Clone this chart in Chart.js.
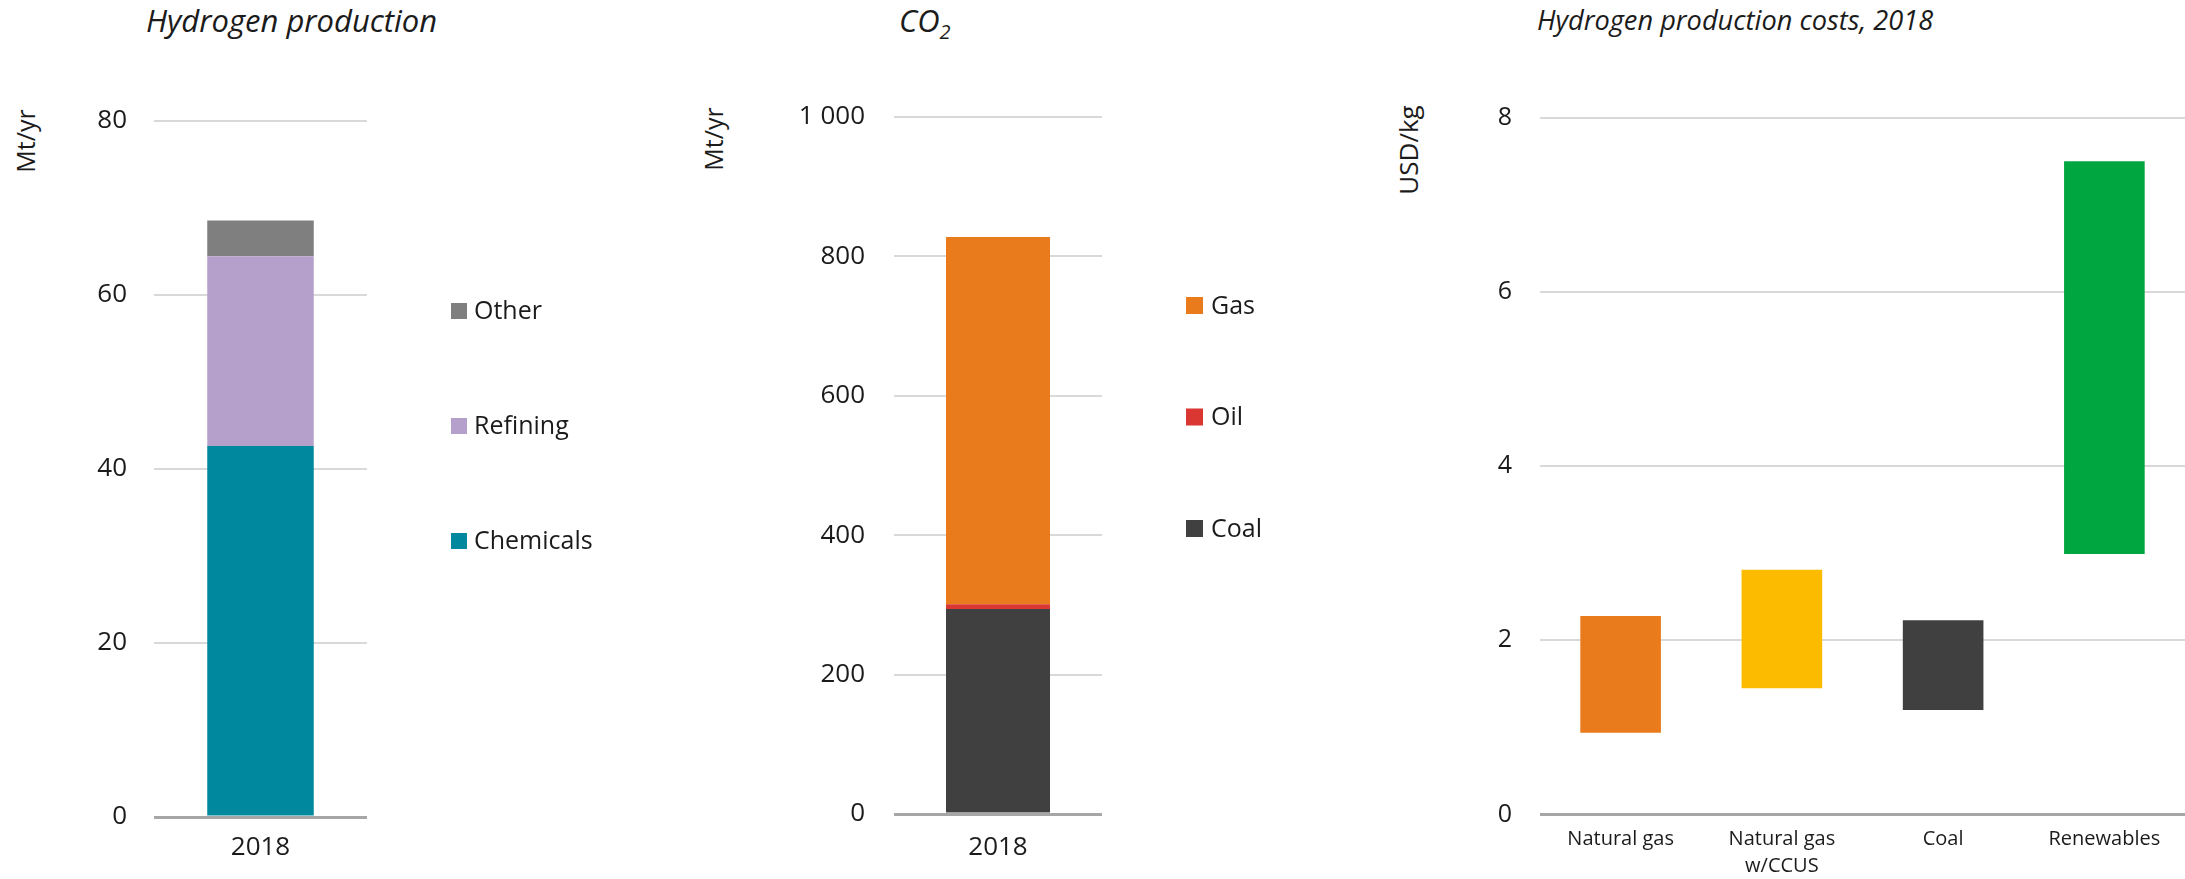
<!DOCTYPE html>
<html>
<head>
<meta charset="utf-8">
<title>Hydrogen production, CO2 and costs</title>
<script src="https://cdn.jsdelivr.net/npm/chart.js@4.4.1/dist/chart.umd.min.js"></script>
<style>
  html, body { margin: 0; padding: 0; background: #fff; }
  body { width: 2185px; height: 879px; position: relative; overflow: hidden; font-family: 'Open Sans', sans-serif; color: #1b1b1b; }
  canvas { position: absolute; top: 0; }
  .title { position: absolute; top: 5px; font-size: 31px; line-height: 30px; font-style: italic; white-space: nowrap; }
  .title sub { font-size: 20px; vertical-align: -7px; line-height: 0; }
  .ytitle { position: absolute; white-space: nowrap; line-height: 34px; transform: translate(-50%, -50%) rotate(-90deg); }
</style>
</head>
<body>
<div class="title" style="left:146px">Hydrogen production</div>
<div class="title" style="left:899px">CO<sub>2</sub></div>
<div class="title" style="left:1537px; font-size:27.2px">Hydrogen production costs, 2018</div>
<div class="ytitle" style="left:25px; top:141px; font-size:25px">Mt/yr</div>
<div class="ytitle" style="left:713px; top:139px; font-size:25px">Mt/yr</div>
<div class="ytitle" style="left:1408px; top:150px; font-size:26px">USD/kg</div>

<canvas id="h2" width="640" height="879" style="left:0px"></canvas>
<canvas id="co2" width="700" height="879" style="left:640px"></canvas>
<canvas id="cost" width="805" height="879" style="left:1380px"></canvas>

<script>
// ---- data ----
const years = ['2018'];

// Hydrogen demand by end use, Mt H2 per year
const h2Chemicals = [42.6];
const h2Refining = [21.8];
const h2Other = [4.1];

// CO2 from hydrogen production by fuel, Mt per year
const co2Coal = [294];
const co2Oil = [7];
const co2Gas = [527];

// Production cost ranges, USD/kg H2
const routes = [['Natural gas'], ['Natural gas', 'w/CCUS'], ['Coal'], ['Renewables']];
const costLow = [0.94, 1.45, 1.20, 2.99];
const costHigh = [2.28, 2.81, 2.23, 7.50];

// ---- styling ----
const FONT = "'Open Sans', sans-serif";
const TEXT = '#1b1b1b';
Chart.defaults.font.family = FONT;
Chart.defaults.color = TEXT;

const gridColor = c => (c.tick && c.tick.value === 0) ? '#a6a6a6' : '#d9d9d9';
const gridWidth = c => (c.tick && c.tick.value === 0) ? 3 : 2;
const spaced = v => String(v).replace(/\B(?=(\d{3})+(?!\d))/g, ' ');

// Legend drawn beside the plot, top entry = last dataset
const sideLegend = {
  id: 'sideLegend',
  afterDraw(chart, args, o) {
    const ctx = chart.ctx;
    const sets = chart.data.datasets.slice().reverse();
    ctx.save();
    ctx.font = o.fontSize + 'px ' + FONT;
    ctx.textBaseline = 'middle';
    ctx.textAlign = 'left';
    sets.forEach((ds, i) => {
      const cy = o.y + i * o.gap;
      ctx.fillStyle = ds.backgroundColor;
      ctx.fillRect(o.x, cy - o.box / 2, o.box, o.box);
      ctx.fillStyle = TEXT;
      ctx.fillText(ds.label, o.x + o.box + o.textGap, cy + 1);
    });
    ctx.restore();
  }
};

function stackedOptions(cfg) {
  return {
    responsive: false,
    animation: false,
    devicePixelRatio: 1,
    layout: { padding: { left: 0, top: cfg.top, right: cfg.right, bottom: 0 } },
    plugins: {
      legend: { display: false },
      tooltip: { enabled: false },
      sideLegend: cfg.legend
    },
    scales: {
      x: {
        stacked: true,
        afterFit: s => { s.height = cfg.xHeight; },
        grid: { display: false, drawTicks: false },
        border: { display: false },
        ticks: { font: { size: 26 }, padding: cfg.xPad, color: TEXT }
      },
      y: {
        stacked: true,
        min: 0, max: cfg.max,
        afterFit: s => { s.width = cfg.yWidth; },
        grid: { color: gridColor, lineWidth: gridWidth, drawTicks: false },
        border: { display: false },
        ticks: { stepSize: cfg.step, font: { size: 26 }, padding: cfg.yPad, color: TEXT, callback: spaced }
      }
    }
  };
}

new Chart(document.getElementById('h2'), {
  type: 'bar',
  data: {
    labels: years,
    datasets: [
      { label: 'Chemicals', data: h2Chemicals, backgroundColor: '#00899e' },
      { label: 'Refining', data: h2Refining, backgroundColor: '#b4a0cb' },
      { label: 'Other', data: h2Other, backgroundColor: '#7f7f7f' }
    ].map(d => Object.assign(d, { categoryPercentage: 1, barPercentage: 0.5 }))
  },
  options: stackedOptions({
    top: 120.5, right: 273, xHeight: 62, yWidth: 154, max: 80, step: 20, yPad: 27, xPad: 15,
    legend: { x: 451, y: 311, gap: 115, box: 16, textGap: 7, fontSize: 25 }
  }),
  plugins: [sideLegend]
});

new Chart(document.getElementById('co2'), {
  type: 'bar',
  data: {
    labels: years,
    datasets: [
      { label: 'Coal', data: co2Coal, backgroundColor: '#404040' },
      { label: 'Oil', data: co2Oil, backgroundColor: '#da3732' },
      { label: 'Gas', data: co2Gas, backgroundColor: '#e97b1c' }
    ].map(d => Object.assign(d, { categoryPercentage: 1, barPercentage: 0.5 }))
  },
  options: stackedOptions({
    top: 117, right: 238, xHeight: 65, yWidth: 254, max: 1000, step: 200, yPad: 29, xPad: 18,
    legend: { x: 546, y: 305.5, gap: 111.5, box: 17, textGap: 8, fontSize: 25 }
  }),
  plugins: [sideLegend]
});

new Chart(document.getElementById('cost'), {
  type: 'bar',
  data: {
    labels: routes,
    datasets: [{
      label: 'USD/kg',
      data: costLow.map((lo, i) => [lo, costHigh[i]]),
      backgroundColor: ['#e97b1c', '#fdbb00', '#404040', '#00a63f'],
      categoryPercentage: 1,
      barPercentage: 0.5,
      borderSkipped: false
    }]
  },
  options: {
    responsive: false,
    animation: false,
    devicePixelRatio: 1,
    layout: { padding: { left: 0, top: 117.7, right: 0, bottom: 0 } },
    plugins: { legend: { display: false }, tooltip: { enabled: false } },
    scales: {
      x: {
        afterFit: s => { s.height = 64.5; },
        grid: { display: false, drawTicks: false },
        border: { display: false },
        ticks: { font: { size: 20, lineHeight: 1.35 }, padding: 11, color: TEXT }
      },
      y: {
        min: 0, max: 8,
        afterFit: s => { s.width = 160; },
        grid: { color: gridColor, lineWidth: gridWidth, drawTicks: false },
        border: { display: false },
        ticks: { stepSize: 2, font: { size: 25 }, padding: 28, color: TEXT }
      }
    }
  }
});
</script>
</body>
</html>
